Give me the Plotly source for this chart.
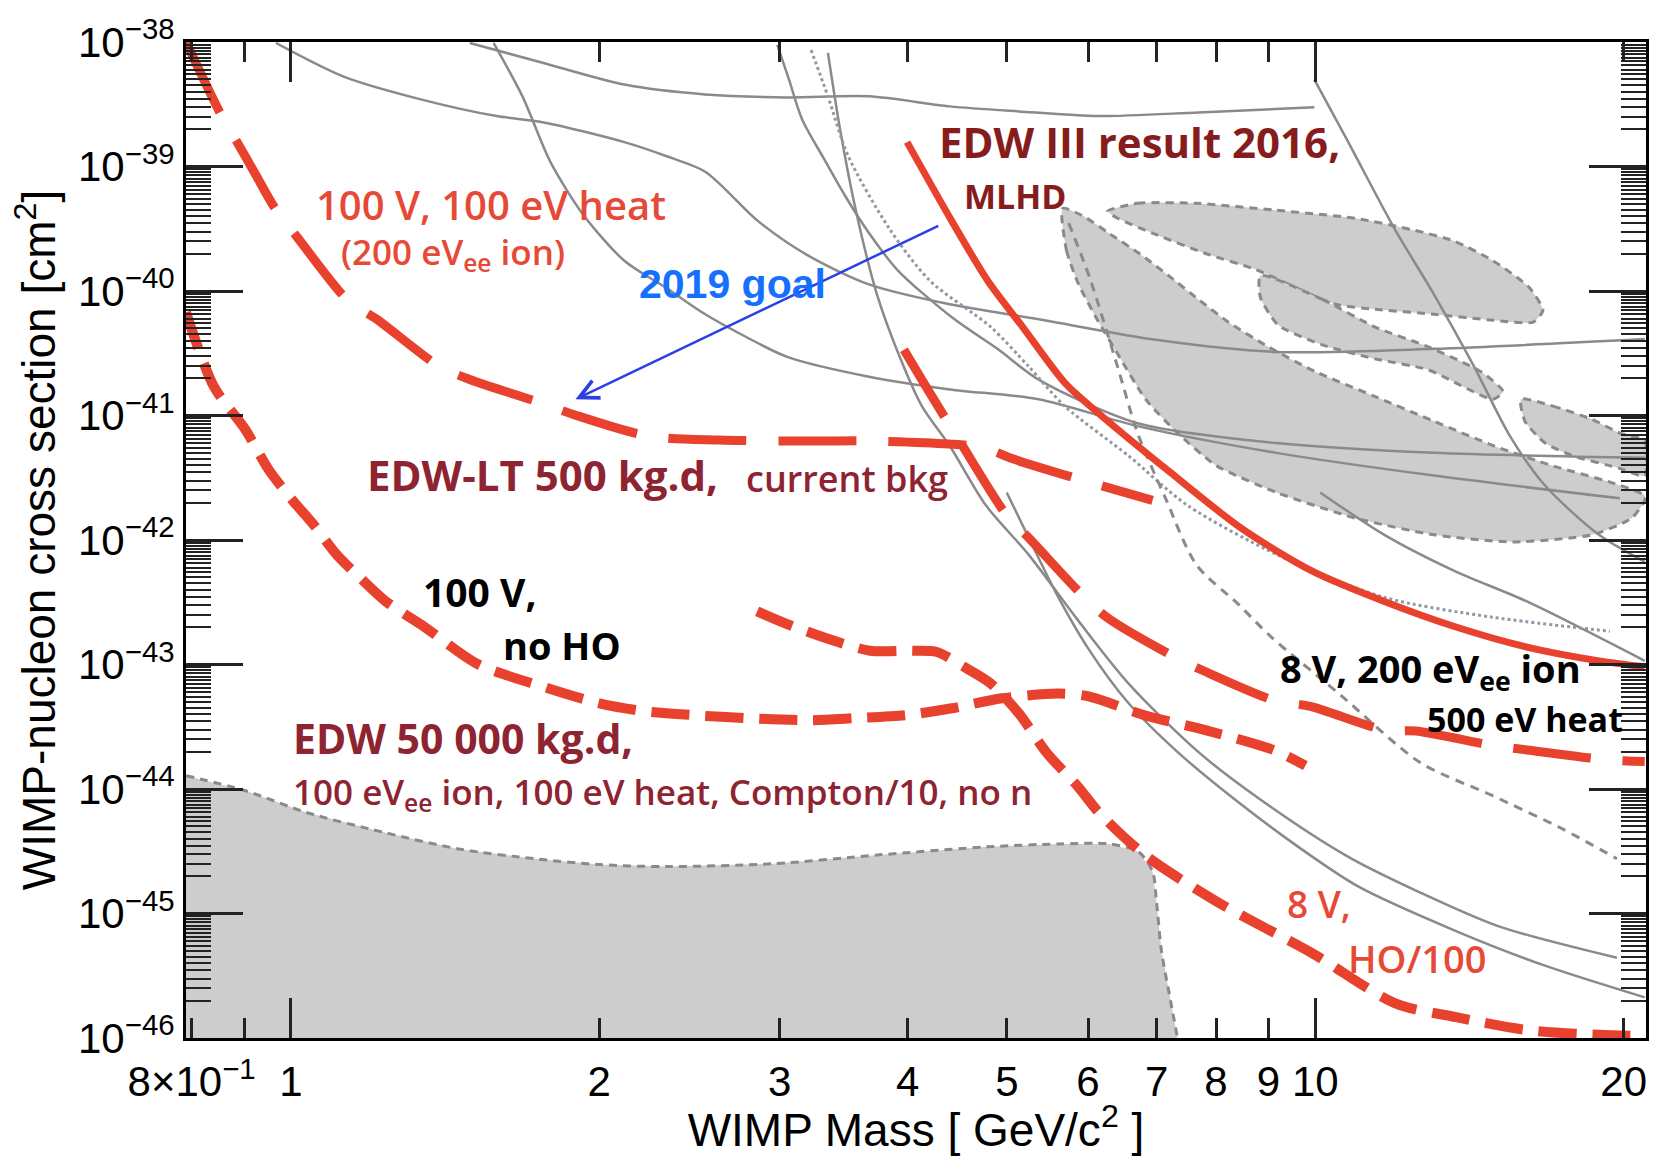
import numpy as np
import plotly.graph_objects as go

# ---------------- data (WIMP mass in GeV/c^2, cross section in cm^2) ----------------
# red long-dash: "100 V, 100 eV heat (200 eVee ion)" / EDW-LT 500 kg.d, current bkg
lt_mass = [0.790, 0.856, 0.886, 0.924, 0.965, 1.016, 1.137, 1.213, 1.397, 1.497, 1.761, 1.887,
           2.234, 2.619, 3.134, 3.700, 4.388, 4.748, 5.066, 6.035, 6.937]
lt_xsec = [1.0e-38, 2.54e-39, 1.574e-39, 8.59e-40, 4.61e-40, 2.66e-40, 8.39e-41, 5.93e-41, 2.47e-41,
           1.94e-41, 1.25e-41, 1.02e-41, 6.84e-42, 6.35e-42, 6.24e-42, 6.24e-42, 5.90e-42, 5.50e-42,
           4.49e-42, 2.89e-42, 2.08e-42]

# red short-dash: "100 V, no HO"
v100_mass = [0.790, 0.841, 0.902, 0.950, 1.0, 1.053, 1.109, 1.168, 1.238, 1.351, 1.521, 1.761, 2.001,
             2.218, 2.482, 2.777, 3.205, 3.553, 3.976, 4.418, 4.943, 5.618, 6.008, 6.814, 7.81, 9.10, 9.78]
v100_xsec = [6.75e-41, 1.71e-41, 7.78e-42, 3.74e-42, 2.16e-42, 1.32e-42, 7.60e-43, 4.99e-43, 3.21e-43,
             2.0e-43, 1.01e-43, 6.65e-44, 4.88e-44, 4.21e-44, 3.91e-44, 3.71e-44, 3.57e-44, 3.71e-44,
             3.91e-44, 4.45e-44, 5.35e-44, 5.85e-44, 5.55e-44, 3.91e-44, 2.97e-44, 2.06e-44, 1.54e-44]

# red short-dash: "8 V, HO/100"
v8_mass = [2.852, 3.051, 3.391, 3.676, 4.039, 4.272, 4.539, 4.823, 5.135, 5.469, 5.875, 6.145, 6.814,
           8.010, 9.956, 11.97, 13.72, 16.09, 18.92, 20.97]
v8_xsec = [2.67e-43, 2.11e-43, 1.55e-43, 1.29e-43, 1.29e-43, 1.26e-43, 9.59e-44, 7.03e-44, 4.06e-44,
           1.95e-44, 1.03e-44, 6.50e-45, 2.96e-45, 1.25e-45, 4.74e-46, 1.90e-46, 1.47e-46, 1.16e-46,
           1.06e-46, 1.04e-46]

# red long-dash: "8 V, 200 eVee ion, 500 eV heat"
v8ion_mass = [3.967, 4.196, 4.508, 4.998, 5.252, 5.914, 6.256, 7.288, 7.777, 9.12, 9.888, 11.70, 12.54,
              14.98, 16.09, 19.22, 20.97]
v8ion_xsec = [3.37e-41, 1.56e-41, 6.01e-42, 1.58e-42, 1.04e-42, 3.66e-43, 2.40e-43, 1.15e-43, 8.91e-44,
              5.15e-44, 4.61e-44, 2.97e-44, 2.92e-44, 2.22e-44, 2.06e-44, 1.72e-44, 1.66e-44]

# red solid: EDW III result 2016, MLHD
edw3_mass = [3.995, 4.418, 4.789, 5.181, 5.705, 6.145, 7.222, 8.472, 9.956, 11.68, 13.72, 16.09, 18.92, 20.97]
edw3_xsec = [1.57e-39, 3.64e-40, 1.21e-40, 5.13e-41, 1.80e-41, 1.04e-41, 3.48e-42, 1.24e-42, 5.57e-43,
             3.21e-43, 2.0e-43, 1.38e-43, 1.07e-43, 9.59e-44]

# "2019 goal" arrow (tail -> head)
goal_mass = [4.30, 1.896]
goal_xsec = [3.38e-40, 1.35e-41]

# grey solid limit curves of other experiments
g2_mass = [1.495, 1.761, 2.116, 2.538, 3.051, 3.667, 4.398, 5.135, 6.145, 7.691, 9.98]
g2_xsec = [9.82e-39, 6.81e-39, 4.55e-39, 3.79e-39, 3.59e-39, 3.66e-39, 3.04e-39, 2.77e-39, 2.54e-39,
           2.72e-39, 2.99e-39]
g3_mass = [0.967, 1.126, 1.339, 1.588, 1.761, 2.116, 2.320, 2.538, 2.858, 3.19, 3.667, 4.398, 5.370,
           7.015, 9.162, 13.06, 20.97]
g3_xsec = [9.82e-39, 5.27e-39, 3.46e-39, 2.54e-39, 2.27e-39, 1.57e-39, 1.22e-39, 9.08e-40, 3.64e-40,
           1.95e-40, 1.13e-40, 7.82e-41, 5.93e-41, 4.04e-41, 3.24e-41, 3.43e-41, 4.11e-41]
g4_mass = [1.577, 1.683, 1.792, 1.931, 2.116, 2.320, 2.538, 2.783, 3.051, 3.667, 4.398, 5.370, 6.707,
           9.162, 13.06, 19.83]
g4_xsec = [9.82e-39, 3.66e-39, 1.09e-39, 4.06e-40, 1.75e-40, 1.07e-40, 6.50e-41, 4.27e-41, 2.96e-41,
           2.05e-41, 1.62e-41, 1.35e-41, 8.22e-42, 5.01e-42, 3.29e-42, 2.16e-42]
g5_mass = [2.984, 3.064, 3.155, 3.315, 3.474, 3.667, 3.914, 4.418, 4.909, 5.370, 6.707, 9.162, 13.06, 20.97]
g5_xsec = [9.47e-39, 4.99e-39, 2.40e-39, 1.15e-39, 5.85e-40, 2.92e-40, 1.46e-40, 6.15e-41, 3.37e-41,
           1.94e-41, 8.67e-42, 6.01e-42, 5.01e-42, 4.57e-42]
g6_mass = [3.344, 3.436, 3.562, 3.734, 3.940, 4.130, 4.398, 4.769, 5.252, 5.875, 6.573, 7.707, 9.06,
           10.77, 12.60, 15.08, 19.70]
g6_xsec = [8.18e-39, 2.0e-39, 4.37e-40, 9.37e-41, 2.80e-41, 1.19e-41, 5.69e-42, 1.90e-42, 7.60e-43,
           2.23e-43, 7.03e-44, 1.95e-44, 7.13e-45, 2.85e-45, 1.50e-45, 7.92e-46, 4.41e-46]
g7_mass = [4.998, 5.252, 5.593, 6.008, 6.573, 7.354, 8.414, 9.625, 11.01, 13.72, 16.76, 20.97]
g7_xsec = [2.41e-42, 1.04e-42, 3.66e-43, 1.33e-43, 4.88e-44, 1.95e-44, 7.82e-45, 3.43e-45, 1.65e-45,
           7.23e-46, 3.81e-46, 2.12e-46]
g10_mass = [10.11, 11.68, 13.72, 16.09, 20.97]
g10_xsec = [2.41e-42, 1.10e-42, 5.57e-43, 3.21e-43, 1.07e-43]
g11_mass = [9.98, 10.77, 11.94, 13.06, 14.29, 15.49, 16.76, 18.92, 20.97]
g11_xsec = [4.99e-39, 1.57e-39, 3.20e-40, 9.37e-41, 2.47e-41, 6.84e-42, 2.74e-42, 1.10e-42, 6.68e-43]

# grey dotted and grey dashed curves
gdot_mass = [3.220, 3.344, 3.499, 3.836, 4.205, 4.823, 5.252, 5.693, 6.573, 7.502, 9.183, 11.68, 14.88, 19.39]
gdot_xsec = [8.63e-39, 3.66e-39, 1.22e-39, 3.20e-40, 1.21e-40, 5.13e-41, 2.47e-41, 1.19e-41, 4.74e-42,
             1.90e-42, 7.60e-43, 3.46e-43, 2.40e-43, 1.85e-43]
gdash_mass = [5.745, 6.022, 6.412, 6.707, 7.142, 7.656, 8.414, 9.06, 10.62, 12.66, 14.88, 17.45, 19.70]
gdash_xsec = [3.51e-40, 1.28e-40, 2.47e-41, 7.23e-42, 2.16e-42, 6.32e-43, 3.04e-43, 1.66e-43, 5.55e-44,
              1.63e-44, 8.87e-45, 4.76e-45, 2.75e-45]

# grey allowed regions (closed contours)
blob_top_mass = [6.271, 6.707, 7.656, 9.162, 10.94, 12.49, 13.66, 14.91, 16.17, 16.68, 16.32, 14.91, 13.06,
                 11.44, 10.46, 9.56, 8.76, 7.79, 7.015, 6.412, 6.271]
blob_top_xsec = [4.37e-40, 5.06e-40, 5.06e-40, 4.45e-40, 3.84e-40, 3.08e-40, 2.52e-40, 1.75e-40, 1.07e-40,
                 7.00e-41, 5.62e-41, 5.82e-41, 6.50e-41, 7.13e-41, 7.82e-41, 1.07e-40, 1.48e-40, 2.02e-40,
                 2.81e-40, 3.84e-40, 4.37e-40]
blob_mid_mass = [8.84, 10.16, 11.44, 12.89, 14.51, 15.25, 14.91, 12.89, 11.44, 10.16, 9.20, 8.84, 8.84]
blob_mid_xsec = [1.33e-40, 8.55e-41, 5.13e-41, 3.56e-41, 2.25e-41, 1.56e-41, 1.35e-41, 2.33e-41, 2.85e-41,
                 3.69e-41, 5.32e-41, 8.87e-41, 1.33e-40]
blob_big_mass = [5.667, 5.718, 5.875, 6.131, 6.412, 6.830, 7.337, 8.010, 9.162, 10.94, 13.06, 15.60, 18.62,
                 20.37, 20.97, 20.97, 19.47, 17.06, 14.95, 13.06, 11.44, 10.0, 9.0, 8.227, 7.691, 7.19,
                 6.722, 6.284, 5.941, 5.667]
blob_big_xsec = [4.61e-40, 2.10e-40, 1.13e-40, 5.82e-41, 3.13e-41, 1.35e-41, 7.23e-42, 3.94e-42, 2.41e-42,
                 1.50e-42, 1.10e-42, 9.64e-43, 1.10e-42, 1.50e-42, 2.08e-42, 2.28e-42, 2.89e-42, 3.94e-42,
                 5.69e-42, 8.99e-42, 1.42e-41, 2.25e-41, 3.56e-41, 5.62e-41, 8.55e-41, 1.33e-40, 2.02e-40,
                 2.92e-40, 3.98e-40, 4.61e-40]
blob_right_mass = [15.88, 17.06, 18.62, 19.83, 20.97, 20.97, 19.74, 17.85, 16.76, 16.02, 15.88]
blob_right_xsec = [1.35e-41, 1.19e-41, 9.33e-42, 7.23e-42, 6.24e-42, 3.29e-42, 3.80e-42, 4.74e-42, 6.01e-42,
                   8.99e-42, 1.35e-41]
# projected sensitivity region at the bottom (upper / right edge)
proj_mass = [0.790, 0.902, 1.034, 1.229, 1.458, 1.733, 2.001, 2.325, 2.957, 3.758, 4.779, 5.618, 6.298,
             6.722, 6.937, 6.998, 7.077, 7.222, 7.337]
proj_xsec = [1.28e-44, 9.72e-45, 6.50e-45, 4.51e-45, 3.30e-45, 2.75e-45, 2.47e-45, 2.38e-45, 2.51e-45,
             2.96e-45, 3.43e-45, 3.62e-45, 3.62e-45, 3.13e-45, 2.17e-45, 1.25e-45, 5.01e-46, 2.00e-46, 1.0e-46]

# axis ticks
x_tick_vals = [0.8, 0.9, 1, 2, 3, 4, 5, 6, 7, 8, 9, 10, 20]
x_tick_text = ["8×10<sup>−1</sup>", "", "1", "2", "3", "4", "5", "6", "7", "8", "9", "10", "20"]
x_major_vals = [1, 10]
y_exponents = list(range(-46, -37))
y_minor_mantissas = [2, 2.5, 3, 3.5, 4, 4.5, 5, 5.5, 6, 6.5, 7, 7.5, 8, 8.5, 9, 9.5]

# ---------------- styles ----------------
RED = "#E8412D"
GREY = "#8A8A8A"
FILL = "#CDCDCD"
XRANGE = [np.log10(0.79), np.log10(21.03)]
YRANGE = [-46, -38]

fig = go.Figure()


def add_line(x, y, color, width, dash="solid", shape="spline"):
    fig.add_trace(go.Scatter(x=x, y=y, mode="lines",
                             line=dict(color=color, width=width, dash=dash, shape=shape, smoothing=0.8),
                             showlegend=False, hoverinfo="skip"))


def add_blob(x, y):
    fig.add_trace(go.Scatter(x=x, y=y, mode="lines", fill="toself", fillcolor=FILL,
                             line=dict(color=GREY, width=3, dash="8px,6px", shape="spline", smoothing=0.6),
                             showlegend=False, hoverinfo="skip"))


# bottom projected region: fill + dashed upper edge
fig.add_trace(go.Scatter(x=proj_mass + [proj_mass[0]], y=proj_xsec + [proj_xsec[-1]], mode="lines",
                         fill="toself", fillcolor=FILL, line=dict(width=0),
                         showlegend=False, hoverinfo="skip"))
add_line(proj_mass, proj_xsec, GREY, 3, "8px,6px")

for bx, by in [(blob_big_mass, blob_big_xsec), (blob_top_mass, blob_top_xsec),
               (blob_mid_mass, blob_mid_xsec), (blob_right_mass, blob_right_xsec)]:
    add_blob(bx, by)

for gx, gy in [(g2_mass, g2_xsec), (g3_mass, g3_xsec), (g4_mass, g4_xsec), (g5_mass, g5_xsec),
               (g6_mass, g6_xsec), (g7_mass, g7_xsec), (g10_mass, g10_xsec), (g11_mass, g11_xsec)]:
    add_line(gx, gy, GREY, 2.5)
add_line(gdot_mass, gdot_xsec, "#8F9AA8", 3, "dot")
add_line(gdash_mass, gdash_xsec, GREY, 3, "9px,7px")

# red curves
add_line(lt_mass, lt_xsec, RED, 9, "78px,32px")
add_line(v8ion_mass, v8ion_xsec, RED, 9, "78px,32px")
add_line(v100_mass, v100_xsec, RED, 10, "38px,16px")
add_line(v8_mass, v8_xsec, RED, 10, "38px,16px")
add_line(edw3_mass, edw3_xsec, RED, 7)

# dummy trace so the overlay axis carrying the long major x ticks is drawn
fig.add_trace(go.Scatter(x=[None], y=[None], xaxis="x2", yaxis="y", showlegend=False, hoverinfo="skip"))

# arrow "2019 goal"
fig.add_annotation(x=np.log10(goal_mass[1]), y=np.log10(goal_xsec[1]),
                   ax=np.log10(goal_mass[0]), ay=np.log10(goal_xsec[0]),
                   xref="x", yref="y", axref="x", ayref="y", text="", showarrow=True,
                   arrowhead=5, arrowsize=1.5, arrowwidth=2.5, arrowcolor="#2A3FE6")

# ---------------- labels ----------------
CAL = "Open Sans, Lato, sans-serif"
LRED = "#E64A36"
DRED = "#8E2432"
labels = [
    ("100 V, 100 eV heat", 0.0876, 0.8370, 40, LRED, 600, CAL),
    ("(200 eV<sub>ee</sub> ion)", 0.1047, 0.7873, 35, LRED, 600, CAL),
    ("2019 goal", 0.3087, 0.7575, 41, "#1570FF", 700, "Liberation Sans, Arial, sans-serif"),
    ("EDW III result 2016,", 0.5147, 0.9006, 42, "#861C1C", 700, CAL),
    ("MLHD", 0.5318, 0.8449, 34, "#861C1C", 700, CAL),
    ("EDW-LT 500 kg.d,", 0.1225, 0.5656, 42, DRED, 700, CAL),
    ("current bkg", 0.3819, 0.5616, 36, DRED, 600, CAL),
    ("100 V,", 0.1608, 0.4483, 39, "black", 700, CAL),
    ("no HO", 0.2156, 0.3946, 38, "black", 700, CAL),
    ("EDW 50 000 kg.d,", 0.0719, 0.3012, 41, DRED, 700, CAL),
    ("100 eV<sub>ee</sub> ion, 100 eV heat, Compton/10, no n", 0.0719, 0.2455, 35, DRED, 600, CAL),
    ("8 V, 200 eV<sub>ee</sub> ion", 0.7481, 0.3688, 38, "black", 700, CAL),
    ("500 eV heat", 0.8487, 0.3201, 34, "black", 700, CAL),
    ("8 V,", 0.7529, 0.1352, 37, LRED, 600, CAL),
    ("HO/100", 0.7947, 0.0805, 38, LRED, 600, CAL),
]
for txt, px, py, size, col, wt, fam in labels:
    fig.add_annotation(x=px, y=py, xref="paper", yref="paper", text=txt, showarrow=False,
                       xanchor="left", yanchor="middle",
                       font=dict(family=fam, size=size, color=col, weight=wt))

AXFONT = "Liberation Sans, Arial, Helvetica, sans-serif"
y_tick_vals = [10.0 ** e for e in y_exponents]
y_tick_text = ["10<sup>−%d</sup>" % (-e) for e in y_exponents]
y_minor_vals = [m * 10.0 ** e for e in y_exponents[:-1] for m in y_minor_mantissas]

fig.update_layout(
    width=1661, height=1156,
    margin=dict(l=186, r=14, t=32, b=118),
    paper_bgcolor="white", plot_bgcolor="white",
    showlegend=False,
    xaxis=dict(type="log", range=XRANGE, showgrid=False, zeroline=False,
               showline=True, linecolor="black", linewidth=3, mirror="ticks",
               ticks="inside", ticklen=20, tickwidth=2.5, tickcolor="#222",
               tickmode="array", tickvals=x_tick_vals, ticktext=x_tick_text,
               tickfont=dict(family=AXFONT, size=42, color="black"), ticklabelstandoff=5,
               title=dict(text="WIMP Mass [ GeV/c<sup>2</sup> ]",
                          font=dict(family=AXFONT, size=46, color="black"), standoff=0),
               layer="above traces"),
    xaxis2=dict(type="log", range=XRANGE, overlaying="x", anchor="y", side="bottom",
                showgrid=False, zeroline=False, showline=False, mirror="ticks",
                ticks="inside", ticklen=40, tickwidth=2.5, tickcolor="#222",
                tickmode="array", tickvals=x_major_vals, showticklabels=False,
                layer="above traces"),
    yaxis=dict(type="log", range=YRANGE, showgrid=False, zeroline=False,
               showline=True, linecolor="black", linewidth=3, mirror="ticks",
               ticks="inside", ticklen=57, tickwidth=2.5, tickcolor="#222",
               tickmode="array", tickvals=y_tick_vals, ticktext=y_tick_text,
               tickfont=dict(family=AXFONT, size=42, color="black"), ticklabelstandoff=0,
               minor=dict(tickmode="array", tickvals=y_minor_vals, ticks="inside", ticklen=25,
                          tickwidth=2, tickcolor="#222"),
               title=dict(text="WIMP-nucleon cross section [cm<sup>2</sup>]",
                          font=dict(family=AXFONT, size=46, color="black"), standoff=8),
               layer="above traces"),
)

fig.write_html("out.html")
